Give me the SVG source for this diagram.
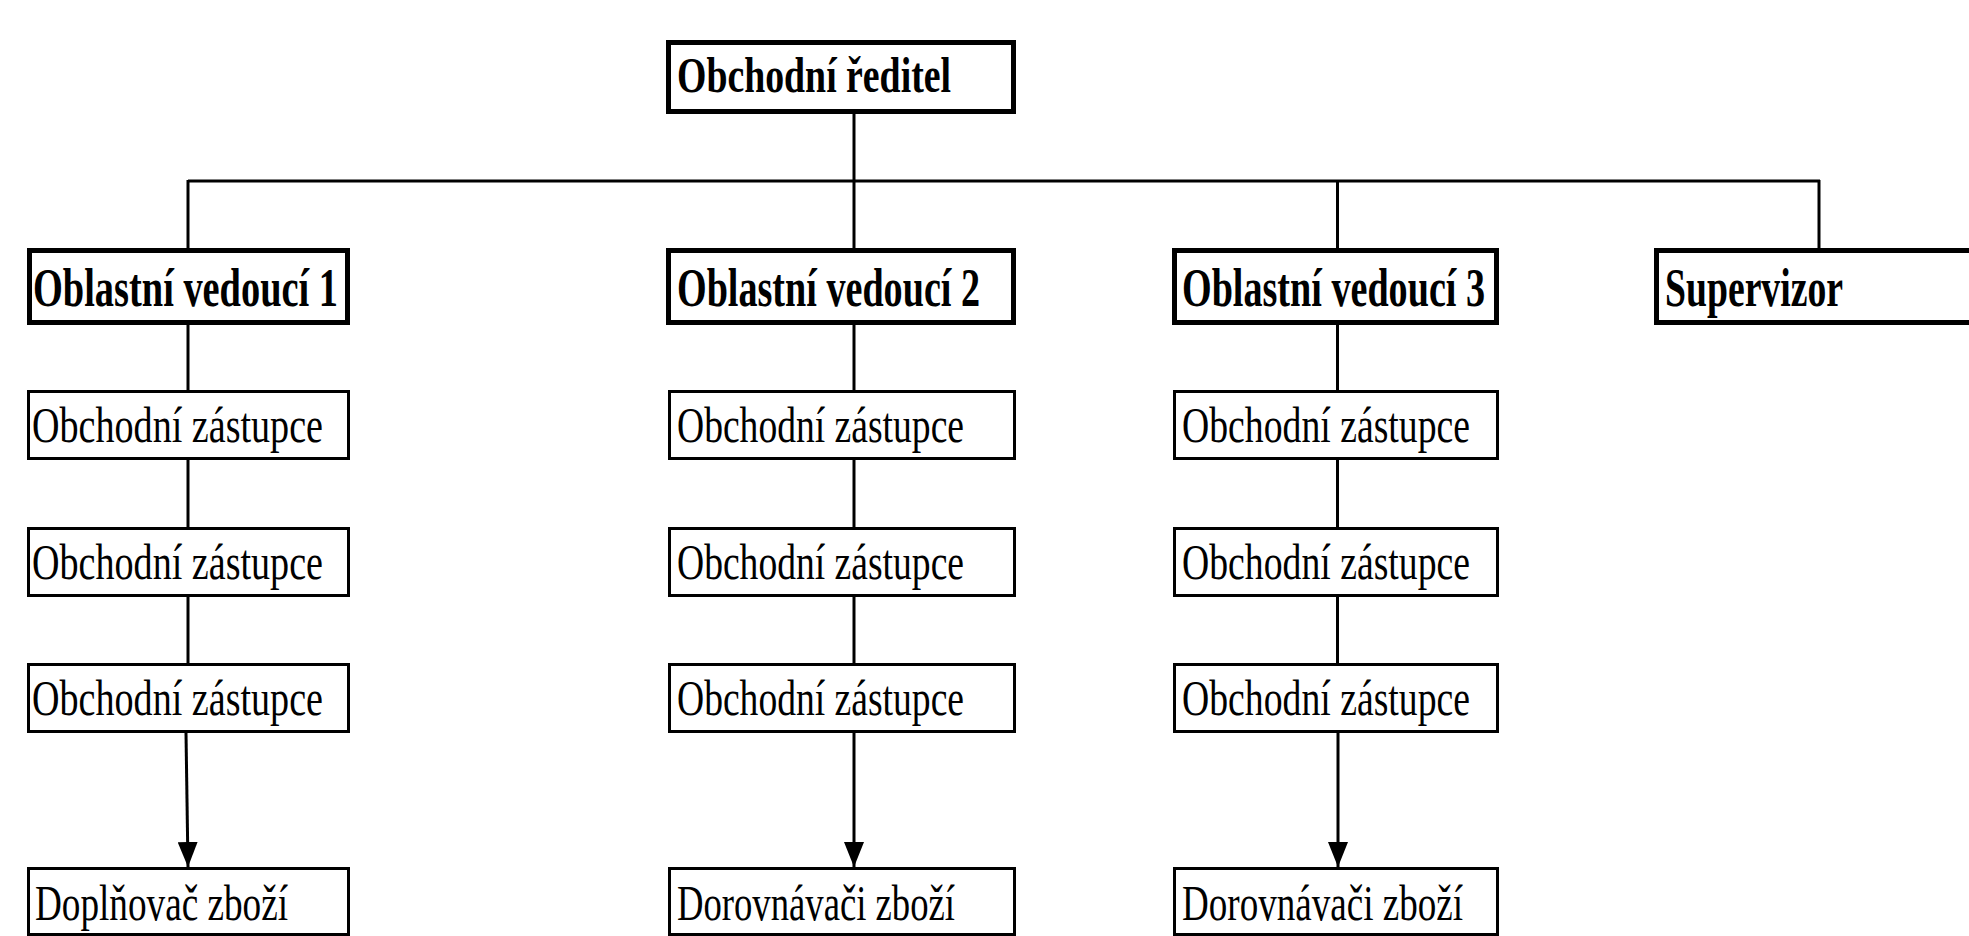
<svg xmlns="http://www.w3.org/2000/svg" width="1969" height="936" viewBox="0 0 1969 936">
<style>
.thick{fill:#fff;stroke:#000;stroke-width:5}
.thin{fill:#fff;stroke:#000;stroke-width:3}
.b{font-family:"Liberation Serif","Times New Roman",serif;font-weight:bold;font-size:54px;fill:#000}
.t{font-family:"Liberation Serif","Times New Roman",serif;font-weight:bold;font-size:50px;fill:#000}
.r{font-family:"Liberation Serif","Times New Roman",serif;font-size:50px;fill:#000}
.c line{stroke:#000;stroke-width:3}
</style>
<defs>
<marker id="arr" markerUnits="userSpaceOnUse" viewBox="0 0 25 20" refX="25" refY="10" markerWidth="25" markerHeight="20" orient="auto">
<path d="M0,0 L25,10 L0,20 z" fill="#000"/>
</marker>
</defs>
<rect width="1969" height="936" fill="#fff"/>
<g class="c" id="connectors">
<line x1="854" y1="114" x2="854" y2="181"/>
<line x1="188" y1="181" x2="1820" y2="181"/>
<line x1="188" y1="180" x2="188" y2="248"/>
<line x1="854" y1="180" x2="854" y2="248"/>
<line x1="1337.5" y1="180" x2="1337.5" y2="248"/>
<line x1="1819" y1="180" x2="1819" y2="248"/>
<line x1="188" y1="325" x2="188" y2="390"/>
<line x1="188" y1="460" x2="188" y2="527"/>
<line x1="188" y1="597" x2="188" y2="663"/>
<line x1="186" y1="733" x2="188" y2="867" marker-end="url(#arr)"/>
<line x1="854" y1="325" x2="854" y2="390"/>
<line x1="854" y1="460" x2="854" y2="527"/>
<line x1="854" y1="597" x2="854" y2="663"/>
<line x1="854" y1="733" x2="854" y2="867" marker-end="url(#arr)"/>
<line x1="1337.5" y1="325" x2="1337.5" y2="390"/>
<line x1="1337.5" y1="460" x2="1337.5" y2="527"/>
<line x1="1337.5" y1="597" x2="1337.5" y2="663"/>
<line x1="1338" y1="733" x2="1338" y2="867" marker-end="url(#arr)"/>
</g>
<g id="obchodni-reditel"><rect class="thick" x="668.5" y="42.5" width="345" height="69"/><text class="t" x="677" y="92" textLength="274" lengthAdjust="spacingAndGlyphs">Obchodní ředitel</text></g>
<g id="ov1"><rect class="thick" x="29.5" y="250.5" width="318" height="72"/><text class="b" x="33" y="306" textLength="305" lengthAdjust="spacingAndGlyphs">Oblastní vedoucí 1</text></g>
<g id="ov2"><rect class="thick" x="668.5" y="250.5" width="345" height="72"/><text class="b" x="677" y="306" textLength="303" lengthAdjust="spacingAndGlyphs">Oblastní vedoucí 2</text></g>
<g id="ov3"><rect class="thick" x="1174.5" y="250.5" width="322" height="72"/><text class="b" x="1182" y="306" textLength="303" lengthAdjust="spacingAndGlyphs">Oblastní vedoucí 3</text></g>
<g id="supervizor"><rect class="thick" x="1656.5" y="250.5" width="400" height="72"/><text class="b" x="1665" y="306" textLength="178" lengthAdjust="spacingAndGlyphs">Supervizor</text></g>
<g id="oz1a"><rect class="thin" x="28.5" y="391.5" width="320" height="67"/><text class="r" x="32" y="442" textLength="291" lengthAdjust="spacingAndGlyphs">Obchodní zástupce</text></g>
<g id="oz1b"><rect class="thin" x="28.5" y="528.5" width="320" height="67"/><text class="r" x="32" y="579" textLength="291" lengthAdjust="spacingAndGlyphs">Obchodní zástupce</text></g>
<g id="oz1c"><rect class="thin" x="28.5" y="664.5" width="320" height="67"/><text class="r" x="32" y="715" textLength="291" lengthAdjust="spacingAndGlyphs">Obchodní zástupce</text></g>
<g id="dopl1"><rect class="thin" x="28.5" y="868.5" width="320" height="66"/><text class="r" x="35" y="920" textLength="253" lengthAdjust="spacingAndGlyphs">Doplňovač zboží</text></g>
<g id="oz2a"><rect class="thin" x="669.5" y="391.5" width="345" height="67"/><text class="r" x="677" y="442" textLength="287" lengthAdjust="spacingAndGlyphs">Obchodní zástupce</text></g>
<g id="oz2b"><rect class="thin" x="669.5" y="528.5" width="345" height="67"/><text class="r" x="677" y="579" textLength="287" lengthAdjust="spacingAndGlyphs">Obchodní zástupce</text></g>
<g id="oz2c"><rect class="thin" x="669.5" y="664.5" width="345" height="67"/><text class="r" x="677" y="715" textLength="287" lengthAdjust="spacingAndGlyphs">Obchodní zástupce</text></g>
<g id="dor2"><rect class="thin" x="669.5" y="868.5" width="345" height="66"/><text class="r" x="677" y="920" textLength="278" lengthAdjust="spacingAndGlyphs">Dorovnávači zboží</text></g>
<g id="oz3a"><rect class="thin" x="1174.5" y="391.5" width="323" height="67"/><text class="r" x="1182" y="442" textLength="288" lengthAdjust="spacingAndGlyphs">Obchodní zástupce</text></g>
<g id="oz3b"><rect class="thin" x="1174.5" y="528.5" width="323" height="67"/><text class="r" x="1182" y="579" textLength="288" lengthAdjust="spacingAndGlyphs">Obchodní zástupce</text></g>
<g id="oz3c"><rect class="thin" x="1174.5" y="664.5" width="323" height="67"/><text class="r" x="1182" y="715" textLength="288" lengthAdjust="spacingAndGlyphs">Obchodní zástupce</text></g>
<g id="dor3"><rect class="thin" x="1174.5" y="868.5" width="323" height="66"/><text class="r" x="1182" y="920" textLength="281" lengthAdjust="spacingAndGlyphs">Dorovnávači zboží</text></g>
</svg>
